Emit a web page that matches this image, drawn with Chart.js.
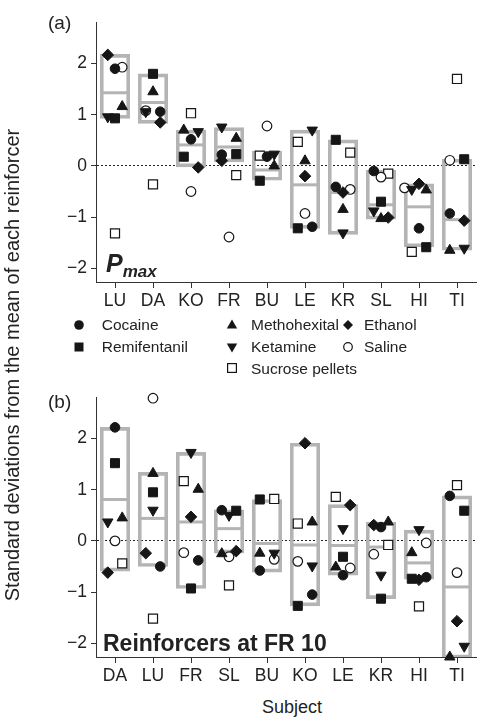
<!DOCTYPE html>
<html>
<head>
<meta charset="utf-8">
<script src="https://cdn.jsdelivr.net/npm/chart.js@4.4.1/dist/chart.umd.min.js"></script>
<style>
body{margin:0;background:#fff;width:491px;height:719px;position:relative;overflow:hidden;font-family:"Liberation Sans",Arial,Helvetica,sans-serif;color:#222}
.wrap{position:absolute;left:0;width:491px;height:320px}
.txt{position:absolute;white-space:nowrap}
</style>
</head>
<body>
<div class="wrap" style="top:0px"><canvas id="chartA"></canvas></div>
<div class="wrap" style="top:375.3px"><canvas id="chartB"></canvas></div>
<div id="overlay"></div>
<script>
// subjects (x categories) for each panel
const subjectsA = ['LU', 'DA', 'KO', 'FR', 'BU', 'LE', 'KR', 'SL', 'HI', 'TI'];
const subjectsB = ['DA', 'LU', 'FR', 'SL', 'BU', 'KO', 'LE', 'KR', 'HI', 'TI'];
const yTicks = [-2, -1, 0, 1, 2];

// (a) Pmax, z-scores per reinforcer
const cocaineA      = [1.90, 1.06, 0.52, 0.22, 0.18, -1.19, -0.41, -0.10, -1.22, -0.93];
const remifentanilA = [0.93, 1.80, 0.18, 0.23, -0.29, -1.22, 0.51, -0.70, -1.59, 0.13];
const methohexitalA = [1.16, 1.45, 0.70, 0.54, 0.00, 0.10, -0.85, -1.03, -0.47, -1.65];
const ketamineA     = [0.96, 1.06, 0.67, 0.76, 0.23, 0.70, -1.31, -0.88, -0.46, -1.61];
const ethanolA      = [2.17, 0.85, -0.03, 0.10, null, -0.20, -0.52, -1.01, -0.35, -1.07];
const salineA       = [1.93, 1.08, -0.50, -1.39, 0.78, -0.93, -0.46, -0.22, -0.43, 0.11];
const sucroseA      = [-1.32, -0.36, 1.03, -0.18, 0.20, 0.47, 0.26, -0.15, -1.68, 1.70];
// range and mean of the drug reinforcers
const boxLowA  = [0.93, 0.83, -0.02, 0.08, -0.28, -1.22, -1.34, -1.04, -1.58, -1.65];
const boxHighA = [2.18, 1.80, 0.70, 0.75, 0.29, 0.70, 0.51, -0.08, -0.35, 0.13];
const boxMeanA = [1.43, 1.24, 0.41, 0.37, -0.08, -0.37, -0.52, -0.76, -0.80, -1.05];

// (b) reinforcers at FR 10
const cocaineB      = [2.22, -0.50, -0.38, 0.60, -0.58, -1.05, -0.67, 0.27, -0.71, 0.88];
const remifentanilB = [1.52, 0.95, -0.93, 0.59, 0.81, -1.27, -0.31, -1.13, -0.74, 0.59];
const methohexitalB = [0.45, 1.32, 1.01, -0.25, -0.24, 0.37, -0.51, 0.37, -0.23, -2.27];
const ketamineB     = [0.37, 0.60, 1.73, 0.50, -0.24, -0.49, 0.24, -0.67, 0.22, -2.06];
const ethanolB      = [-0.62, -0.24, 0.47, -0.20, null, 1.91, 0.70, 0.31, -0.76, -1.57];
const salineB       = [0.00, 2.79, -0.23, -0.31, -0.36, -0.40, -0.53, -0.26, -0.04, -0.62];
const sucroseB      = [-0.44, -1.52, 1.17, -0.87, 0.82, 0.34, 0.86, -0.08, -1.28, 1.09];
const boxLowB  = [-0.59, -0.50, -0.93, -0.24, -0.61, -1.27, -0.67, -1.13, -0.75, -2.29];
const boxHighB = [2.22, 1.34, 1.73, 0.61, 0.81, 1.91, 0.71, 0.37, 0.21, 0.88];
const boxMeanB = [0.81, 0.44, 0.37, 0.24, -0.05, -0.08, -0.09, -0.12, -0.43, -0.90];

// horizontal jitter column of each point (-1 left, 0 centre, 1 right)
const jitA = {
  cocaine:  [0, 1, 0, -1, 0, 1, -1, -1, 0, -1],
  remi:     [0, 0, -1, 1, -1, -1, -1, 0, 1, 1],
  metho:    [1, 0, -1, 1, 1, 0, 0, 0, 1, -1],
  ketamine: [-1, -1, 1, -1, 1, 1, 0, -1, -1, 1],
  ethanol:  [-1, 1, 1, -1, 0, 0, 0, 1, 0, 1],
  saline:   [1, -1, 0, 0, 0, 0, 1, 0, -2, -1],
  sucrose:  [0, 0, 0, 1, -1, -1, 1, 1, -1, 0]
};
const jitB = {
  cocaine:  [0, 1, 1, -1, -1, 1, 0, 0, 1, -1],
  remi:     [0, 0, 0, 1, -1, -1, 0, 0, -1, 1],
  metho:    [1, 0, 1, -1, -1, 1, -1, 1, -1, -1],
  ketamine: [-1, 0, 0, 0, 1, 1, 0, 0, 0, 1],
  ethanol:  [-1, -1, 0, 1, 0, 0, 1, -1, 0, 0],
  saline:   [0, 0, -1, 0, 1, -1, 1, -1, 1, 0],
  sucrose:  [1, 0, -1, 0, 1, -1, -1, 1, 0, 0]
};

const colStep = 0.19;
const ink = '#161616';
const boxGrey = '#b4b4b4';
const FONT = '"Liberation Sans", Arial, Helvetica, sans-serif';

const styles = {
  cocaine:  {pointStyle: 'circle', pointRadius: 4.8, backgroundColor: ink, borderColor: ink, borderWidth: 1},
  remi:     {pointStyle: 'rect', pointRadius: 6.4, backgroundColor: ink, borderColor: ink, borderWidth: 1},
  metho:    {pointStyle: 'triangle', pointRadius: 6, backgroundColor: ink, borderColor: ink, borderWidth: 1},
  ketamine: {pointStyle: 'triangle', pointRotation: 180, pointRadius: 6, backgroundColor: ink, borderColor: ink, borderWidth: 1},
  ethanol:  {pointStyle: 'rectRot', pointRadius: 5.8, backgroundColor: ink, borderColor: ink, borderWidth: 1},
  saline:   {pointStyle: 'circle', pointRadius: 4.8, backgroundColor: '#fff', borderColor: ink, borderWidth: 1.2},
  sucrose:  {pointStyle: 'rect', pointRadius: 6.4, backgroundColor: '#fff', borderColor: ink, borderWidth: 1.2}
};

function points(key, vals, jit) {
  const d = [];
  vals.forEach((v, i) => { if (v !== null) d.push({x: i + jit[key][i] * colStep, y: v}); });
  return Object.assign({type: 'scatter', data: d, clip: false, order: 0}, styles[key]);
}

function makeChart(id, subjects, s, jit, low, high, mean) {
  const datasets = [
    points('cocaine', s[0], jit),
    points('remi', s[1], jit),
    points('metho', s[2], jit),
    points('ketamine', s[3], jit),
    points('ethanol', s[4], jit),
    points('saline', s[5], jit),
    points('sucrose', s[6], jit),
    {type: 'scatter', order: 5, clip: false,
     data: mean.map((m, i) => ({x: i, y: m})),
     pointStyle: 'line', pointRadius: 12, borderColor: boxGrey, borderWidth: 3},
    {type: 'bar', order: 10, grouped: false,
     data: low.map((l, i) => ({x: i, y: [l, high[i]]})),
     backgroundColor: 'rgba(0,0,0,0)', borderColor: boxGrey, borderWidth: 3,
     borderSkipped: false, barThickness: 29.5}
  ];
  return new Chart(document.getElementById(id), {
    type: 'scatter',
    data: {datasets: datasets},
    options: {
      responsive: true,
      maintainAspectRatio: false,
      animation: false,
      layout: {padding: {top: 22.7, right: 5.5, left: 0, bottom: 0}},
      plugins: {legend: {display: false}, tooltip: {enabled: false}},
      scales: {
        x: {
          type: 'linear', min: -0.5, max: 9.5, offset: false,
          afterFit: sc => { sc.height = 38; },
          afterBuildTicks: sc => { sc.ticks = subjects.map((n, i) => ({value: i})); },
          grid: {drawOnChartArea: false, offset: false, tickLength: 6, tickColor: '#333'},
          border: {color: '#333', width: 1},
          ticks: {color: '#222', font: {family: FONT, size: 17.5}, padding: 3, maxRotation: 0, autoSkip: false,
                  callback: v => subjects[v]}
        },
        y: {
          type: 'linear', min: -2.27, max: 2.8,
          afterFit: sc => { sc.width = 96; },
          afterBuildTicks: sc => { sc.ticks = yTicks.map(v => ({value: v})); },
          grid: {
            color: c => (c.tick && c.tick.value === 0) ? '#222' : 'rgba(0,0,0,0)',
            lineWidth: 1, tickLength: 5, tickColor: '#333'
          },
          border: {color: '#333', width: 1, dash: [2, 2]},
          ticks: {
            color: '#222', font: {family: FONT, size: 17.5}, padding: 4,
            callback: v => String(v).replace('-', '\u2212')
          }
        }
      }
    }
  });
}

makeChart('chartA', subjectsA,
  [cocaineA, remifentanilA, methohexitalA, ketamineA, ethanolA, salineA, sucroseA],
  jitA, boxLowA, boxHighA, boxMeanA);
makeChart('chartB', subjectsB,
  [cocaineB, remifentanilB, methohexitalB, ketamineB, ethanolB, salineB, sucroseB],
  jitB, boxLowB, boxHighB, boxMeanB);

// text and legend overlay
const overlay = document.getElementById('overlay');
function addText(html, left, top, size, extra) {
  const d = document.createElement('div');
  d.className = 'txt';
  d.innerHTML = html;
  d.style.cssText += `left:${left}px;top:${top}px;font-size:${size}px;line-height:${size}px;` + (extra || '');
  overlay.appendChild(d);
  return d;
}
addText('(a)', 48, 13, 19);
addText('(b)', 48, 392, 19);
addText('<i>P</i><sub style="font-size:17px;vertical-align:-5px">max</sub>', 106, 251, 25, 'font-weight:bold;font-style:italic;');
addText('Reinforcers at FR 10', 103, 632, 23, 'font-weight:bold;');
addText('Subject', 292 - 40, 698, 18, 'width:80px;text-align:center;');
addText('Standard deviations from the mean of each reinforcer', 12 - 300, 365 - 11, 20,
  'width:600px;height:22px;line-height:22px;text-align:center;transform:rotate(-90deg);');

// legend
const legendNames = ['Cocaine', 'Remifentanil', 'Methohexital', 'Ketamine', 'Sucrose pellets', 'Ethanol', 'Saline'];
const legendKeys  = ['cocaine', 'remi', 'metho', 'ketamine', 'sucrose', 'ethanol', 'saline'];
const legendSlots = [[79, 101.7, 325], [79, 101.7, 346.7], [231.5, 251, 325], [231.5, 251, 346.7],
                     [231.5, 251, 368.3], [348, 364, 325], [348, 364, 346.7]];
const shapes = {
  cocaine:  '<circle cx="7" cy="7" r="4.8" fill="#161616"/>',
  remi:     '<rect x="2.5" y="2.5" width="9" height="9" fill="#161616"/>',
  metho:    '<polygon points="7,1.5 12.2,10.5 1.8,10.5" fill="#161616"/>',
  ketamine: '<polygon points="7,12.5 12.2,3.5 1.8,3.5" fill="#161616"/>',
  ethanol:  '<polygon points="7,2 12,7 7,12 2,7" fill="#161616"/>',
  saline:   '<circle cx="7" cy="7" r="4.3" fill="#fff" stroke="#161616" stroke-width="1.2"/>',
  sucrose:  '<rect x="2.6" y="2.6" width="8.8" height="8.8" fill="#fff" stroke="#161616" stroke-width="1.2"/>'
};
const legendSize = 15.5;
legendNames.forEach((name, i) => {
  const [mx, tx, cy] = legendSlots[i];
  const m = document.createElement('div');
  m.style.cssText = `position:absolute;left:${mx - 7}px;top:${cy - 7}px;width:14px;height:14px;`;
  m.innerHTML = `<svg width="14" height="14">${shapes[legendKeys[i]]}</svg>`;
  overlay.appendChild(m);
  addText(name, tx, cy - 0.49 * legendSize, legendSize);
});
</script>
</body>
</html>
